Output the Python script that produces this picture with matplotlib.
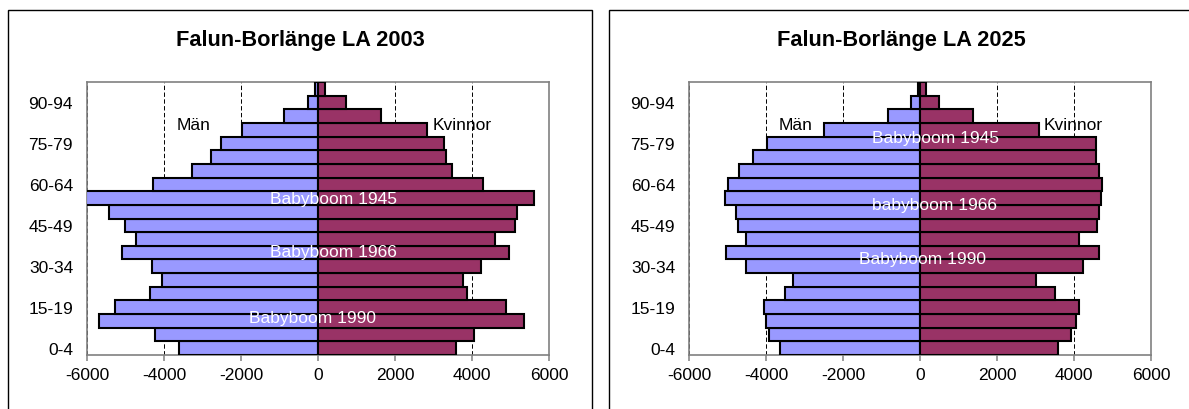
import matplotlib
matplotlib.use("Agg")
import matplotlib.pyplot as plt
from matplotlib.patches import Rectangle

plt.rcParams['font.family'] = ['Liberation Sans', 'DejaVu Sans']

# age groups, bottom to top
ages = ["0-4", "5-9", "10-14", "15-19", "20-24", "25-29", "30-34", "35-39",
        "40-44", "45-49", "50-54", "55-59", "60-64", "65-69", "70-74",
        "75-79", "80-84", "85-89", "90-94", "95+"]

men_2003 = [3620, 4230, 5680, 5270, 4370, 4040, 4320, 5085, 4715, 5025,
            5430, 6020, 4290, 3260, 2790, 2520, 1970, 885, 270, 70]
women_2003 = [3595, 4050, 5360, 4875, 3870, 3760, 4240, 4955, 4610, 5125,
              5175, 5600, 4280, 3485, 3335, 3260, 2830, 1640, 715, 170]

# 2025 (forecast)
men_2025 = [3645, 3930, 3990, 4050, 3510, 3300, 4530, 5045, 4520, 4720,
            4770, 5055, 4975, 4700, 4325, 3980, 2490, 820, 225, 40]
women_2025 = [3585, 3920, 4040, 4130, 3515, 3005, 4245, 4640, 4130, 4590,
              4640, 4700, 4740, 4660, 4570, 4570, 3100, 1380, 490, 160]

xticks = [-6000, -4000, -2000, 0, 2000, 4000, 6000]
label_every = 3

MEN_COL = "#9999FF"
WOMEN_COL = "#993366"

W, H = 1189, 410
fig = plt.figure(figsize=(W / 100, H / 100), dpi=100)

# chart frames (Excel chart areas)
fig.patches.append(Rectangle((8 / W, -0.1), (592 - 8) / W, 1.1 - 11 / H,
                             transform=fig.transFigure, fill=False,
                             edgecolor="black", lw=1.0))
fig.patches.append(Rectangle((609 / W, -0.1), 0.6, 1.1 - 11 / H,
                             transform=fig.transFigure, fill=False,
                             edgecolor="black", lw=1.0))


def pyramid(ax, men, women):
    y = list(range(len(ages)))
    ax.barh(y, [-m for m in men], height=1.0, color=MEN_COL,
            edgecolor="black", lw=1.5, zorder=3)
    ax.barh(y, women, height=1.0, color=WOMEN_COL,
            edgecolor="black", lw=1.5, zorder=3)
    ax.set_xlim(-6000, 6000)
    ax.set_ylim(-0.5, len(ages) - 0.5)
    ax.set_xticks(xticks)
    ax.set_xticklabels([str(t) for t in xticks], fontsize=12.5)
    ax.set_yticks(y[::label_every])
    ax.set_yticklabels(ages[::label_every], fontsize=12.5)
    ax.tick_params(axis="y", length=0, pad=10)
    ax.tick_params(axis="x", length=4, width=1.1, color="#808080",
                   direction="out", pad=5)
    for s in ax.spines.values():
        s.set_color("#808080")
        s.set_linewidth(1.2)
    ax.xaxis.grid(True, color="black", lw=0.7, ls=(0, (4.5, 2.5)), zorder=1)
    ax.set_axisbelow(True)
    ax.text(-3680, 16.4, "Män", fontsize=12.5, va="center", ha="left")


ax1 = fig.add_axes([87 / W, (H - 356) / H, 462 / W, 273 / H])
pyramid(ax1, men_2003, women_2003)
fig.text(300 / W, (H - 46) / H, "Falun-Borlänge LA 2003", fontsize=15.7,
         fontweight="bold", ha="center", va="baseline")
ax1.text(2980, 16.4, "Kvinnor", fontsize=12.5, va="center", ha="left")
ax1.text(410, 11.0, "Babyboom 1945", color="white", fontsize=12.5,
         ha="center", va="center", zorder=5)
ax1.text(410, 7.1, "Babyboom 1966", color="white", fontsize=12.5,
         ha="center", va="center", zorder=5)
ax1.text(-150, 2.25, "Babyboom 1990", color="white", fontsize=12.5,
         ha="center", va="center", zorder=5)

ax2 = fig.add_axes([689 / W, (H - 356) / H, 462 / W, 273 / H])
pyramid(ax2, men_2025, women_2025)
fig.text(901.5 / W, (H - 46) / H, "Falun-Borlänge LA 2025", fontsize=15.7,
         fontweight="bold", ha="center", va="baseline")
ax2.text(3210, 16.4, "Kvinnor", fontsize=12.5, va="center", ha="left")
ax2.text(400, 15.45, "Babyboom 1945", color="white", fontsize=12.5,
         ha="center", va="center", zorder=5)
ax2.text(385, 10.5, "babyboom 1966", color="white", fontsize=12.5,
         ha="center", va="center", zorder=5)
ax2.text(60, 6.58, "Babyboom 1990", color="white", fontsize=12.5,
         ha="center", va="center", zorder=5)

fig.savefig("out.png", dpi=100)
